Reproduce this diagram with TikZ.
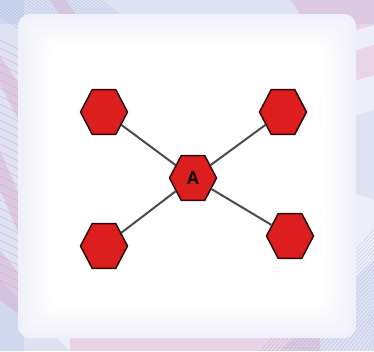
\documentclass[tikz,border=0pt]{standalone}
\usepackage{fontspec}
\setmainfont{Liberation Sans}
\usetikzlibrary{shapes.geometric}
\definecolor{hexred}{RGB}{221,30,30}
\definecolor{hexedge}{RGB}{45,10,10}
\definecolor{linkgray}{RGB}{75,75,75}
\definecolor{bgpink}{RGB}{215,120,170}
\definecolor{bgblue}{RGB}{140,165,220}
\definecolor{bgbase}{RGB}{238,238,248}
\tikzset{
  hexnode/.style={regular polygon, regular polygon sides=6, minimum size=47pt,
    inner sep=0pt, fill=hexred, draw=hexedge, line width=1.5pt, yscale=1.1,
    font=\bfseries\fontsize{17}{17}\selectfont},
  link/.style={draw=linkgray, line width=2pt},
  pinkband/.style={fill=bgpink, opacity=0.22},
  blueband/.style={fill=bgblue, opacity=0.16},
  stripe/.style={line width=0.4pt, opacity=0.5}
}
\begin{document}
\begin{tikzpicture}[x=1pt,y=-1pt]
\useasboundingbox (0,0) rectangle (374,351);
% pastel patterned frame
\fill[bgbase] (0,0) rectangle (374,351);
\fill[blueband] (0,0) rectangle (374,24);
\fill[blueband] (0,0) rectangle (24,351);
\fill[pinkband] (50,0) -- (66,0) -- (95,45) -- (79,45) -- cycle;
\fill[pinkband] (0,55) -- (0,85) -- (35,150) -- (35,110) -- cycle;
\fill[pinkband] (0,150) -- (0,190) -- (30,260) -- (30,220) -- cycle;
\fill[pinkband] (290,0) -- (374,0) -- (374,25) -- (320,40) -- cycle;
\fill[pinkband] (340,55) -- (374,45) -- (374,75) -- (340,85) -- cycle;
\fill[blueband] (340,120) -- (374,110) -- (374,200) -- (345,190) -- cycle;
\fill[blueband] (280,351) -- (374,260) -- (374,351) -- cycle;
\fill[blueband] (0,280) -- (70,351) -- (0,351) -- cycle;
\fill[pinkband] (70,334) rectangle (320,351);
\fill[pinkband] (0,250) -- (40,300) -- (40,330) -- (0,300) -- cycle;
\foreach \k in {0,4,...,120}{
  \draw[stripe, draw=bgblue] (\k-20,0) -- (\k+20,30);
  \draw[stripe, draw=bgblue] (260+\k,351) -- (374,230+\k);
  \draw[stripe, draw=bgpink] (0,40+\k*2) -- (40,60+\k*2);
}
% soft white centre: opaque steps from tint to white
\foreach \i [evaluate=\i as \p using 10+\i*4.5] in {0,...,20}{
  \fill[white!\p!bgbase, rounded corners=12pt]
    (18+\i*1.6,14+\i*1.6) rectangle (356-\i*1.6,338-\i*1.6);
}
\fill[white, rounded corners=8pt] (52,48) rectangle (322,304);
% nodes
\node[hexnode] (a)  at (193,178) {A};
\node[hexnode] (tl) at (104,112) {};
\node[hexnode] (tr) at (283,112) {};
\node[hexnode] (bl) at (104,246) {};
\node[hexnode] (br) at (290,236) {};
% connectors
\draw[link] (tl) -- (a);
\draw[link] (tr) -- (a);
\draw[link] (bl) -- (a);
\draw[link] (br) -- (a);
\end{tikzpicture}
\end{document}
